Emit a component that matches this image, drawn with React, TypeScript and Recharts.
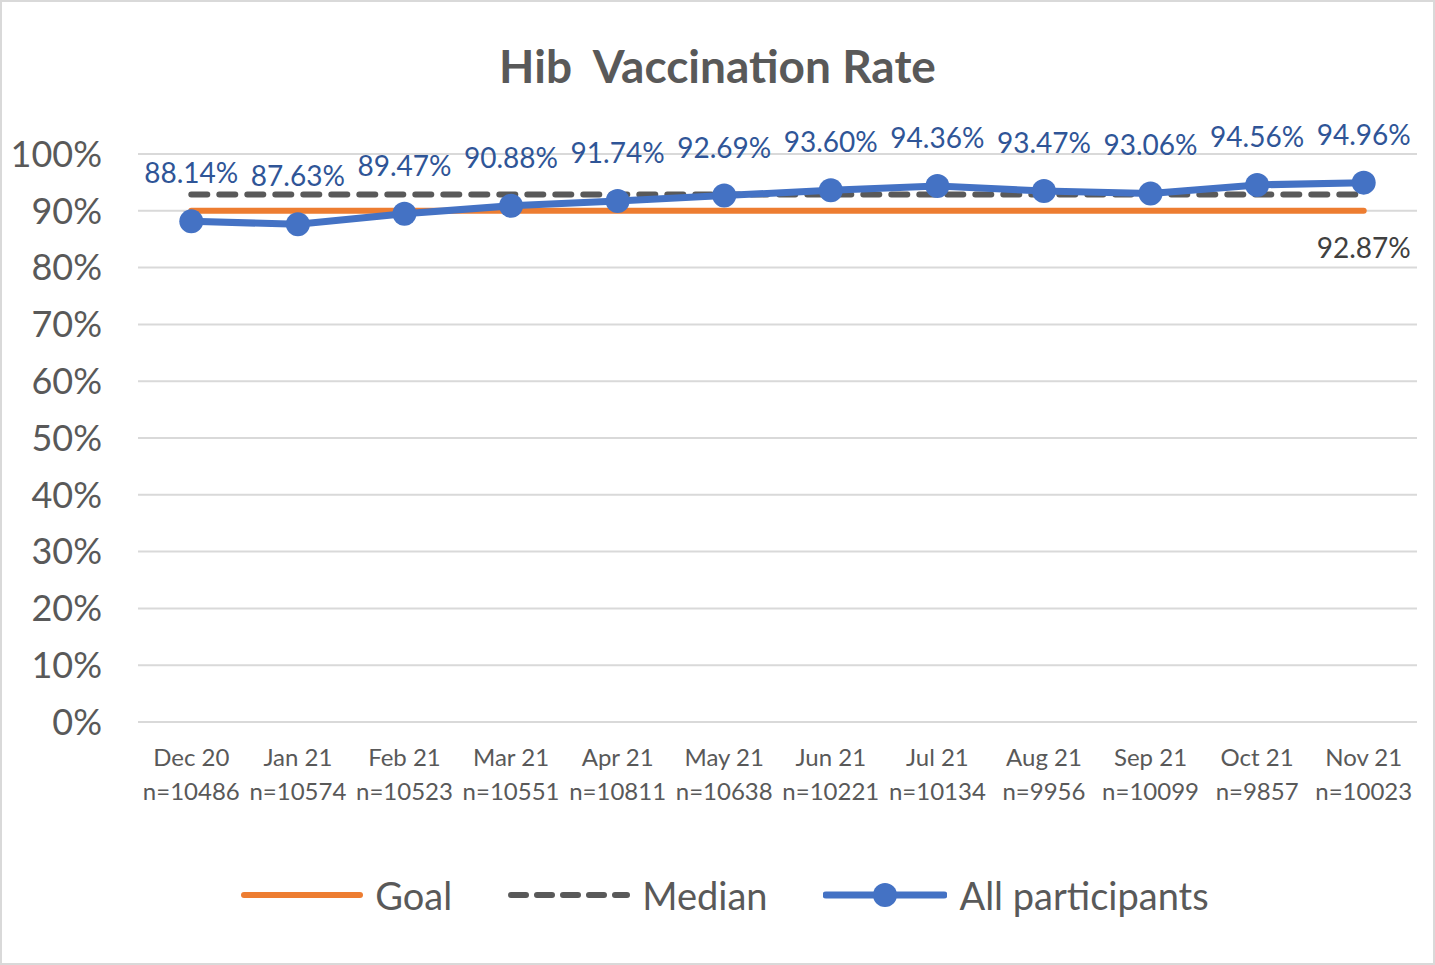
import React from 'react';
import {
  LineChart,
  Line,
  XAxis,
  YAxis,
  CartesianGrid,
  Legend,
  LabelList
} from 'recharts';

const months = ['Dec 20', 'Jan 21', 'Feb 21', 'Mar 21', 'Apr 21', 'May 21', 'Jun 21', 'Jul 21', 'Aug 21', 'Sep 21', 'Oct 21', 'Nov 21'];
const counts = ['n=10486', 'n=10574', 'n=10523', 'n=10551', 'n=10811', 'n=10638', 'n=10221', 'n=10134', 'n=9956', 'n=10099', 'n=9857', 'n=10023'];
const allParticipants = [0.8814, 0.8763, 0.8947, 0.9088, 0.9174, 0.9269, 0.9360, 0.9436, 0.9347, 0.9306, 0.9456, 0.9496];
const goal = [0.9, 0.9, 0.9, 0.9, 0.9, 0.9, 0.9, 0.9, 0.9, 0.9, 0.9, 0.9];
const median = [0.9287, 0.9287, 0.9287, 0.9287, 0.9287, 0.9287, 0.9287, 0.9287, 0.9287, 0.9287, 0.9287, 0.9287];
const yTicks = [0, 0.1, 0.2, 0.3, 0.4, 0.5, 0.6, 0.7, 0.8, 0.9, 1];

const FONT = 'Lato, "Open Sans", sans-serif';
const GREY = '#595959';
const ORANGE = '#ED7D31';
const BLUE = '#4472C4';
const LABEL_BLUE = '#2F5597';

const data = months.map((m, i) => ({
  month: m,
  count: counts[i],
  all: allParticipants[i],
  goal: goal[i],
  median: median[i]
}));

const pct = (v: number) => `${(v * 100).toFixed(2)}%`;

const MonthTick = (props: any) => {
  const { x, y, payload, index } = props;
  return (
    <g>
      <text x={x} y={y + 36} textAnchor="middle" fill={GREY} fontSize={24} fontFamily={FONT}>
        {payload.value}
      </text>
      <text x={x} y={y + 70} textAnchor="middle" fill={GREY} fontSize={24} fontFamily={FONT}>
        {counts[index]}
      </text>
    </g>
  );
};

const PointLabel = (props: any) => {
  const { x, y, value } = props;
  return (
    <text x={x} y={y - 49} textAnchor="middle" dominantBaseline="central" fill={LABEL_BLUE} fontSize={28} fontFamily={FONT}>
      {pct(value)}
    </text>
  );
};

const MedianLabel = (props: any) => {
  const { x, y, value, index } = props;
  if (index !== months.length - 1) return null;
  return (
    <text x={x} y={y + 53} textAnchor="middle" dominantBaseline="central" fill="#404040" fontSize={28} fontFamily={FONT}>
      {pct(value)}
    </text>
  );
};

const LegendContent = () => {
  const textStyle: React.CSSProperties = { fontFamily: FONT, fontSize: 38, color: GREY, marginLeft: 12 };
  return (
    <div style={{ display: 'flex', justifyContent: 'center', alignItems: 'center', height: 50, paddingLeft: 15 }}>
      <div style={{ display: 'flex', alignItems: 'center', marginRight: 56 }}>
        <svg width={122} height={24}>
          <line x1={3} y1={12} x2={119} y2={12} stroke={ORANGE} strokeWidth={6} strokeLinecap="round" />
        </svg>
        <span style={textStyle}>Goal</span>
      </div>
      <div style={{ display: 'flex', alignItems: 'center', marginRight: 56 }}>
        <svg width={122} height={24}>
          <line x1={3} y1={12} x2={119} y2={12} stroke={GREY} strokeWidth={6} strokeDasharray="15 11" strokeLinecap="round" />
        </svg>
        <span style={textStyle}>Median</span>
      </div>
      <div style={{ display: 'flex', alignItems: 'center' }}>
        <svg width={124} height={26}>
          <line x1={3} y1={13} x2={121} y2={13} stroke={BLUE} strokeWidth={7} strokeLinecap="round" />
          <circle cx={62} cy={13} r={12} fill={BLUE} />
        </svg>
        <span style={textStyle}>All participants</span>
      </div>
    </div>
  );
};

export default function App() {
  return (
    <div style={{ position: 'absolute', left: 0, top: 0, width: 1435, height: 965, background: '#fff' }}>
      <div
        style={{
          position: 'absolute',
          left: 0,
          top: 0,
          width: 1431,
          height: 961,
          border: '2px solid #d9d9d9'
        }}
      />
      <div
        style={{
          position: 'absolute',
          top: 38,
          left: 0,
          width: 1435,
          textAlign: 'center',
          fontFamily: FONT,
          fontWeight: 700,
          fontSize: 46,
          color: GREY,
          whiteSpace: 'pre'
        }}
      >
        {'Hib  Vaccination Rate'}
      </div>
      <LineChart
        width={1435}
        height={965}
        data={data}
        margin={{ top: 154, right: 18, left: 0, bottom: 163 }}
      >
        <CartesianGrid horizontal vertical={false} stroke="#d9d9d9" strokeWidth={2} />
        <XAxis
          dataKey="month"
          scale="band"
          height={30}
          axisLine={false}
          tickLine={false}
          interval={0}
          tick={<MonthTick />}
        />
        <YAxis
          width={138}
          domain={[0, 1]}
          ticks={yTicks}
          axisLine={false}
          tickLine={false}
          tickFormatter={(v: number) => `${Math.round(v * 100)}%`}
          tick={{ fill: GREY, fontSize: 36, fontFamily: FONT }}
          tickMargin={30}
        />
        <Legend
          verticalAlign="bottom"
          content={<LegendContent />}
          wrapperStyle={{ top: 870, left: 0, width: 1435, height: 50, bottom: 'auto' }}
        />
        <Line
          dataKey="goal"
          name="Goal"
          stroke={ORANGE}
          strokeWidth={6}
          strokeLinecap="round"
          dot={false}
          activeDot={false}
          isAnimationActive={false}
        />
        <Line
          dataKey="median"
          name="Median"
          stroke={GREY}
          strokeWidth={6}
          strokeDasharray="16 12"
          strokeLinecap="round"
          dot={false}
          activeDot={false}
          isAnimationActive={false}
        >
          <LabelList dataKey="median" content={<MedianLabel />} />
        </Line>
        <Line
          dataKey="all"
          name="All participants"
          stroke={BLUE}
          strokeWidth={7}
          dot={{ r: 12, fill: BLUE, stroke: BLUE, strokeWidth: 0 }}
          activeDot={false}
          isAnimationActive={false}
        >
          <LabelList dataKey="all" content={<PointLabel />} />
        </Line>
      </LineChart>
    </div>
  );
}
